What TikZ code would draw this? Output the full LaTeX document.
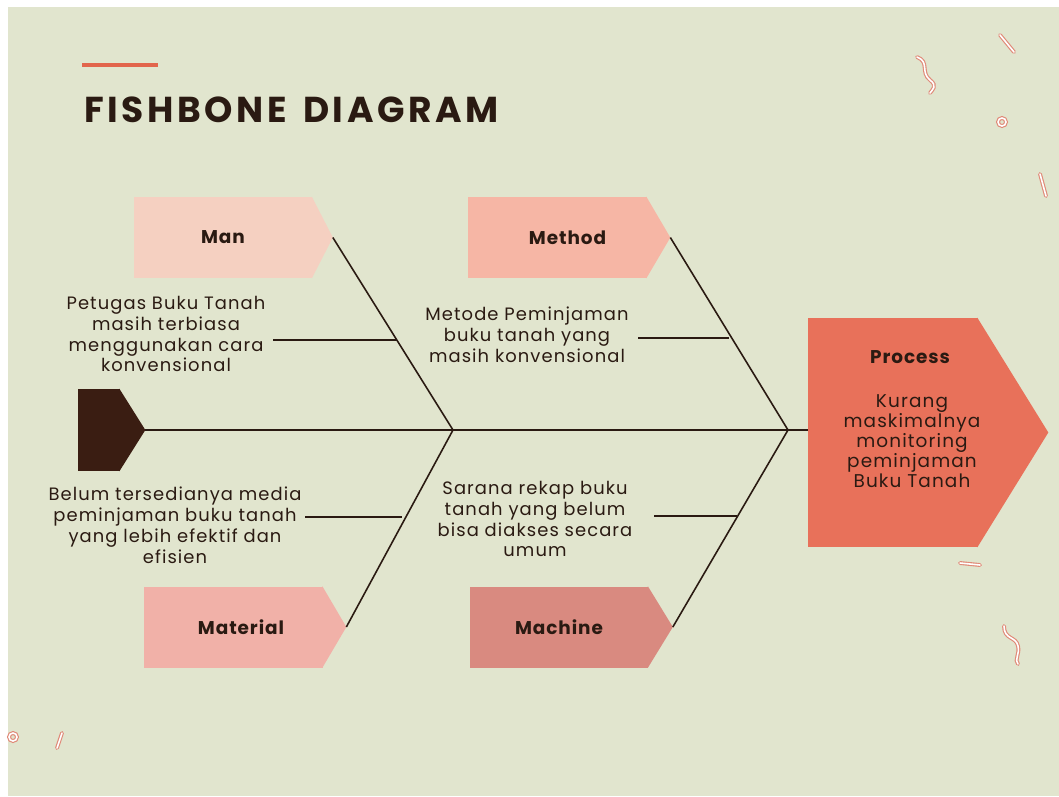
\documentclass[tikz,border=0pt]{standalone}
\usepackage{fontspec}
\setmainfont{Poppins}
\usetikzlibrary{calc}

\definecolor{bgsage}{HTML}{E1E5CE}
\definecolor{inkbrown}{HTML}{2A1A12}
\definecolor{tailbrown}{HTML}{3A1D12}
\definecolor{rulered}{HTML}{E2654C}
\definecolor{manpink}{HTML}{F5D0C1}
\definecolor{methodpink}{HTML}{F6B6A5}
\definecolor{materialpink}{HTML}{F1B1A8}
\definecolor{machinepink}{HTML}{D98A80}
\definecolor{processred}{HTML}{E8715A}
\definecolor{squiggle}{HTML}{E08A78}

\tikzset{
  catbox/.style={rectangle, inner sep=0pt, minimum width=3.58cm, minimum height=1.62cm,
    text=inkbrown, font=\fontsize{10.5}{12}\selectfont\bfseries\addfontfeatures{LetterSpace=5}},
  cause/.style={align=center, text=inkbrown, inner sep=2pt,
    font=\fontsize{10.2}{11.9}\selectfont\addfontfeatures{LetterSpace=6}},
  bone/.style={draw=inkbrown, line width=0.9pt},
  deco/.style={line cap=round, line width=2.2pt, draw=squiggle},
  decoin/.style={line cap=round, line width=0.9pt, draw=white}
}

\begin{document}
\begin{tikzpicture}[x=0.02cm, y=-0.02cm]
\useasboundingbox (0,0) rectangle (1059,796);
\fill[white] (0,0) rectangle (1059,796);
\fill[bgsage] (8,7) rectangle (1059,796);

% title
\draw[rulered, line width=1.8pt] (82,65) -- (158,65);
\node[anchor=base west, inner sep=0pt, text=inkbrown,
  font=\fontsize{20.5}{24}\selectfont\bfseries\addfontfeatures{LetterSpace=10}] (title) at (84,122) {FISHBONE\hspace{0.45em}DIAGRAM};

% little decorations
\foreach \s in {deco, decoin}{
  \draw[\s] (917,57) .. controls (930,62) and (920,72) .. (930,80) .. controls (938,86) and (932,90) .. (930,93);
  \draw[\s] (1000,35) -- (1014,52);
  \draw[\s] (1040,174) -- (1046,196);
  \draw[\s] (960,563) -- (980,565);
  \draw[\s] (1004,626) .. controls (1004,640) and (1016,636) .. (1018,646) .. controls (1020,654) and (1014,660) .. (1018,664);
  \draw[\s] (62,733) -- (57,748);
  \draw[\s] (1002,122) circle (4);
  \draw[\s] (13,737) circle (4);
}

% tail and head
\node[rectangle, fill=tailbrown, inner sep=0pt, minimum width=0.84cm, minimum height=1.64cm] (tail) at (99,430) {};
\node[rectangle, fill=processred, inner sep=0pt, minimum width=3.4cm, minimum height=4.58cm] (head) at (893,432.5) {};
\fill[tailbrown] ($(tail.north east)+(-1,0)$) -- ($(tail.east)+(25,0)$) coordinate (tail-tip) -- ($(tail.south east)+(-1,0)$) -- cycle;
\fill[processred] ($(head.north east)+(-1,0)$) -- ($(head.east)+(70,0)$) -- ($(head.south east)+(-1,0)$) -- cycle;
\node[catbox, minimum width=0pt, minimum height=0pt] (headTitle) at (910,357) {Process};
\node[cause, font=\fontsize{10.5}{11.4}\selectfont\addfontfeatures{LetterSpace=6}] (headText) at (912,441)
  {Kurang\\maskimalnya\\monitoring\\peminjaman\\Buku Tanah};

% categories
\node[catbox, fill=manpink] (man) at (223,237.5) {Man};
\node[catbox, fill=methodpink] (method) at (557.5,237.5) {\hspace{0.4cm}Method};
\node[catbox, fill=materialpink] (material) at (233.5,627) {\hspace{0.3cm}Material};
\node[catbox, fill=machinepink] (machine) at (559,627) {Machine};
\foreach \n/\c/\t in {man/manpink/20, method/methodpink/23, material/materialpink/23, machine/machinepink/24}{
  \fill[\c] ($(\n.north east)+(-1,0)$) -- ($(\n.east)+(\t,0)$) coordinate (\n-tip) -- ($(\n.south east)+(-1,0)$) -- cycle;
}

% causes
\node[cause] (manCause) at (166,334) {Petugas Buku Tanah\\masih terbiasa\\menggunakan cara\\konvensional};
\node[cause] (methodCause) at (527,335) {Metode Peminjaman\\buku tanah yang\\masih konvensional};
\node[cause] (materialCause) at (175,525) {Belum tersedianya media\\peminjaman buku tanah\\yang lebih efektif dan\\efisien};
\node[cause] (machineCause) at (535,519) {Sarana rekap buku\\tanah yang belum\\bisa diakses secara\\umum};

% spine and bones
\coordinate (j1) at (453,430);
\coordinate (j2) at (788,430);
\draw[bone] (tail-tip) -- (head.west |- tail-tip);
\draw[bone] (man-tip) -- (j1);
\draw[bone] (material-tip) -- (j1);
\draw[bone] (method-tip) -- (j2);
\draw[bone] (machine-tip) -- (j2);

% sub bones
\coordinate (manJ) at (397,340);
\coordinate (methodJ) at (729,338);
\coordinate (materialJ) at (402,517);
\coordinate (machineJ) at (737,516);
\draw[bone] (manJ -| manCause.east) ++(4,0) -- (manJ);
\draw[bone] (methodJ -| methodCause.east) ++(6,0) -- (methodJ);
\draw[bone] (materialJ -| materialCause.east) -- (materialJ);
\draw[bone] (machineJ -| machineCause.east) ++(18,0) -- (machineJ);
\end{tikzpicture}
\end{document}
